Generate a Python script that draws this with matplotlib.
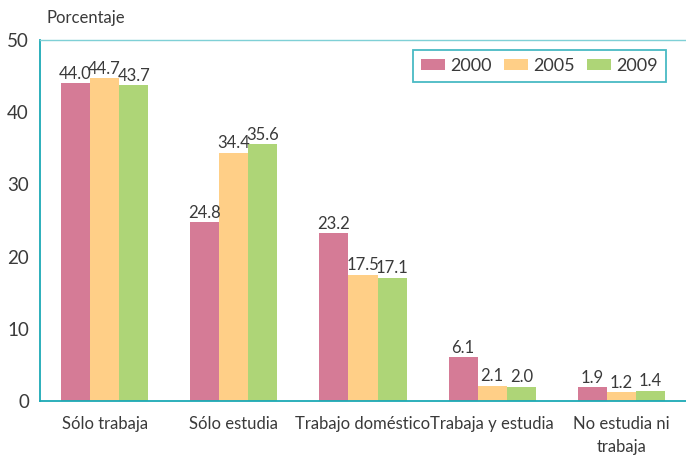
import numpy as np
import matplotlib.pyplot as plt

# Datos
categorias = ["Sólo trabaja", "Sólo estudia", "Trabajo doméstico",
              "Trabaja y estudia", "No estudia ni\ntrabaja"]
anios = ["2000", "2005", "2009"]
v2000 = [44.0, 24.8, 23.2, 6.1, 1.9]
v2005 = [44.7, 34.4, 17.5, 2.1, 1.2]
v2009 = [43.7, 35.6, 17.1, 2.0, 1.4]

colores = ["#D57B96", "#FFCF87", "#AED577"]
teal = "#1BA9B5"
texto = "#3a3a3a"

plt.rcParams['font.family'] = ['Lato', 'DejaVu Sans']

fig = plt.figure(figsize=(6.86, 4.59), dpi=100)
ax = fig.add_axes([40/686, 58/459, 646/686, 361/459])

x = np.arange(len(categorias))
w = 0.225
for i, (serie, c, lab) in enumerate(zip([v2000, v2005, v2009], colores, anios)):
    bars = ax.bar(x + (i - 1) * w, serie, width=w, color=c, label=lab)
    for b, v in zip(bars, serie):
        ax.text(b.get_x() + b.get_width() / 2, v + 0.2, f"{v:.1f}",
                ha="center", va="bottom", fontsize=12, color=texto)

ax.set_xlim(-0.5, 4.5)
ax.set_ylim(0, 50)
ax.set_yticks(range(0, 51, 10))
ax.set_xticks(x)
ax.set_xticklabels(categorias, fontsize=12, color=texto, linespacing=1.5)
ax.tick_params(axis="both", length=0, colors=texto)
ax.tick_params(axis="y", labelsize=13.5, pad=8)
ax.tick_params(axis="x", pad=11)

for s in ["left", "bottom"]:
    ax.spines[s].set_color(teal)
    ax.spines[s].set_linewidth(1.3)
ax.spines["top"].set_color("#7FD0D6")
ax.spines["top"].set_linewidth(1.0)
ax.spines["right"].set_visible(False)

fig.text(47/686, 1 - 18/459, "Porcentaje", fontsize=12, color=texto,
         ha="left", va="center")

leg = ax.legend(loc="upper right", bbox_to_anchor=(626/646, 1 - 10/361), ncol=3,
                frameon=True, fancybox=False, handlelength=1.3,
                handleheight=0.6, columnspacing=0.7, handletextpad=0.3,
                borderpad=0.45, borderaxespad=0, labelcolor=texto,
                prop={"size": 13})
leg.get_frame().set_edgecolor(teal)
leg.get_frame().set_linewidth(1.3)

fig.savefig("out.png", dpi=100)
